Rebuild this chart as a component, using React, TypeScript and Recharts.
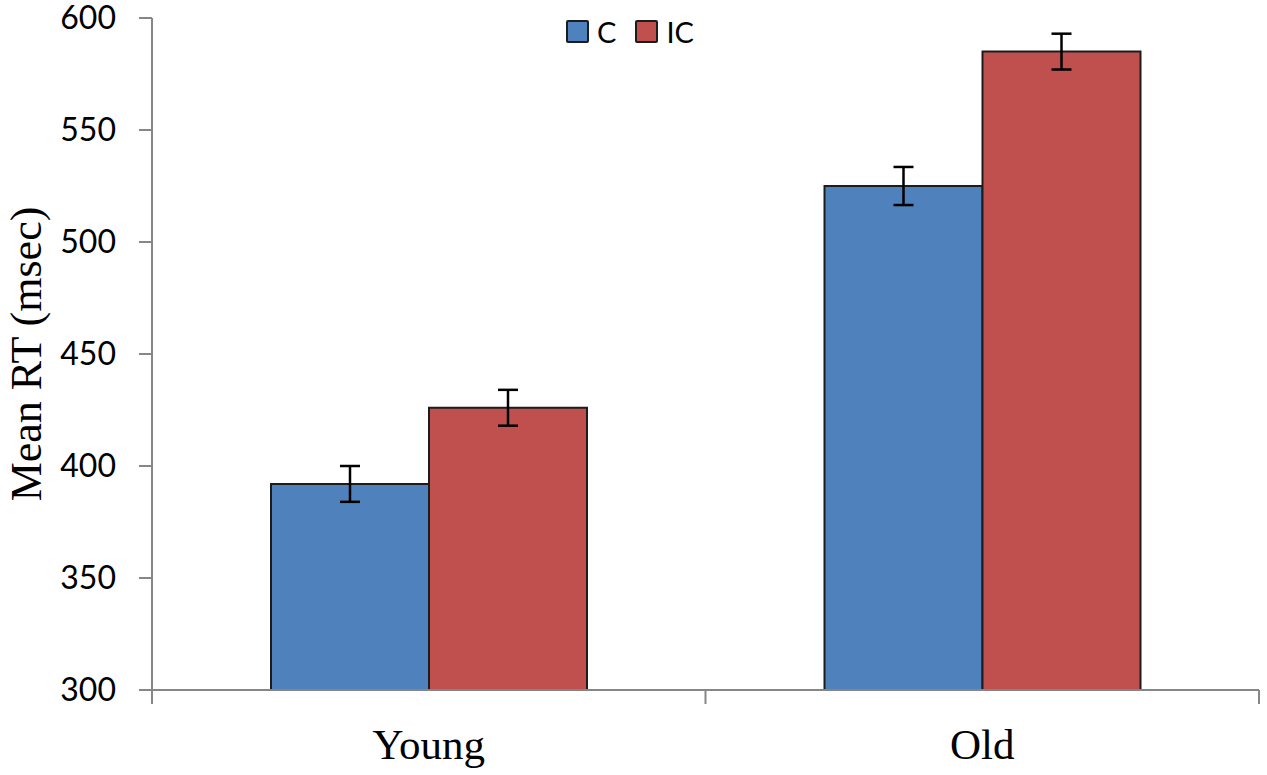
import { BarChart, Bar, XAxis, YAxis, ErrorBar, Legend } from "recharts";

const groups = ["Young", "Old"];
const cMeans = [392, 525];
const icMeans = [426, 585];
const cErrors = [8, 8.5];
const icErrors = [8, 8];
const yTicks = [300, 350, 400, 450, 500, 550, 600];

const data = groups.map((g, i) => ({
    group: g,
    C: cMeans[i],
    IC: icMeans[i],
    cErr: cErrors[i],
    icErr: icErrors[i],
}));

const BLUE = "#4F81BD";
const RED = "#C0504D";
const AXIS = "#868686";
const OUTLINE = "#1c1c1c";

const XTick = (props: any) => {
    const { x, y, payload, index, visibleTicksCount, width } = props;
    const half = payload?.offset ?? width / visibleTicksCount / 2;
    const last = index === visibleTicksCount - 1;
    return (
        <g>
            <line x1={x - half} y1={y} x2={x - half} y2={y + 14} stroke={AXIS} strokeWidth={2} />
            {last && (
                <line x1={x + half} y1={y} x2={x + half} y2={y + 14} stroke={AXIS} strokeWidth={2} />
            )}
            <text
                x={x}
                y={y + 69}
                textAnchor="middle"
                fontFamily="'Liberation Serif', serif"
                fontSize={43}
                fill="#000"
            >
                {payload.value}
            </text>
        </g>
    );
};

const YTitle = (props: any) => {
    const { viewBox } = props;
    const cx = viewBox.x + 26;
    const cy = viewBox.y + viewBox.height / 2;
    return (
        <text
            x={cx}
            y={cy}
            transform={`rotate(-90, ${cx}, ${cy})`}
            textAnchor="middle"
            dominantBaseline="central"
            fontFamily="'Liberation Serif', serif"
            fontSize={44}
            fill="#000"
        >
            Mean RT (msec)
        </text>
    );
};

const renderLegend = () => (
    <div
        style={{
            display: "flex",
            alignItems: "center",
            fontFamily: "Lato, sans-serif",
            fontSize: 29,
            color: "#000",
        }}
    >
        {[
            { name: "C", color: BLUE },
            { name: "IC", color: RED },
        ].map((s) => (
            <div key={s.name} style={{ display: "flex", alignItems: "center", marginRight: 19 }}>
                <span
                    style={{
                        display: "inline-block",
                        width: 19,
                        height: 19,
                        background: s.color,
                        border: `2px solid ${OUTLINE}`,
                        borderRadius: 2,
                        marginRight: 8,
                    }}
                />
                <span>{s.name}</span>
            </div>
        ))}
    </div>
);

export default function App() {
    return (
        <div style={{ position: "absolute", left: 0, top: 0, background: "#fff" }}>
            <BarChart
                width={1267}
                height={775}
                data={data}
                margin={{ top: 18, right: 8, bottom: 0, left: 0 }}
                barGap={0}
                barSize={158}
            >
                <XAxis
                    dataKey="group"
                    height={85}
                    stroke={AXIS}
                    axisLine={{ stroke: AXIS, strokeWidth: 2 }}
                    tickLine={false}
                    tickSize={0}
                    tickMargin={0}
                    tick={<XTick />}
                    interval={0}
                />
                <YAxis
                    width={152}
                    domain={[300, 600]}
                    ticks={yTicks}
                    interval={0}
                    allowDataOverflow
                    axisLine={{ stroke: AXIS, strokeWidth: 2 }}
                    tickLine={{ stroke: AXIS, strokeWidth: 2 }}
                    tickSize={13}
                    tickMargin={23}
                    tick={{ fill: "#000", fontFamily: "Lato, sans-serif", fontSize: 32 }}
                    label={<YTitle />}
                />
                <Legend
                    content={renderLegend}
                    layout="horizontal"
                    verticalAlign="middle"
                    align="center"
                    wrapperStyle={{ position: "absolute", top: 14, left: 566, width: 200 }}
                />
                <Bar dataKey="C" fill={BLUE} stroke={OUTLINE} strokeWidth={2} isAnimationActive={false}>
                    <ErrorBar dataKey="cErr" direction="y" width={10} stroke="#000" strokeWidth={2.5} />
                </Bar>
                <Bar dataKey="IC" fill={RED} stroke={OUTLINE} strokeWidth={2} isAnimationActive={false}>
                    <ErrorBar dataKey="icErr" direction="y" width={10} stroke="#000" strokeWidth={2.5} />
                </Bar>
            </BarChart>
        </div>
    );
}
